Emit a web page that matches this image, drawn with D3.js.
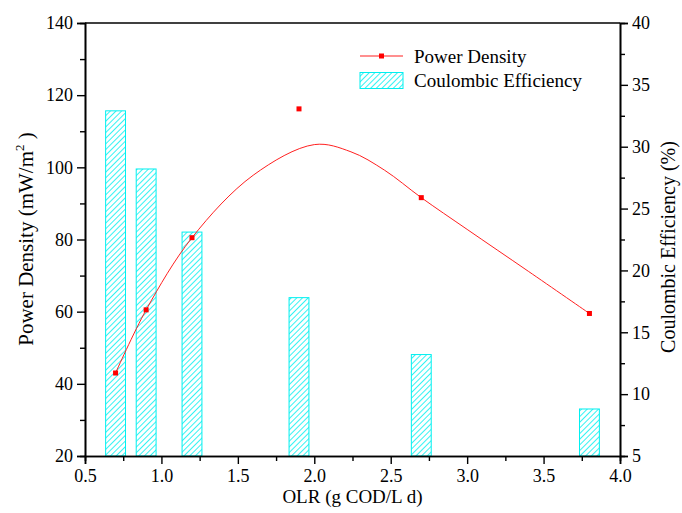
<!DOCTYPE html>
<html><head><meta charset="utf-8">
<script src="https://cdn.jsdelivr.net/npm/d3@7"></script>
<style>
html,body{margin:0;padding:0;background:#fff;}
text{font-family:"Liberation Serif","Times New Roman",serif;fill:#000;}
</style></head>
<body><svg id="c" width="682" height="513"></svg>
<script>
// ---- data ----
const olr = [0.7, 0.9, 1.2, 1.9, 2.7, 3.8];
const powerDensity = [43, 60.5, 80.5, 116.2, 91.6, 59.5];
const coulombicEff = [32.9, 28.2, 23.1, 17.8, 13.2, 8.8];
// fitted curve
const fitX = [0.7, 0.9, 1.2, 1.6, 2.0, 2.24, 2.46, 2.7, 3.0, 3.4, 3.8];
const fitY = [43, 60.5, 80.5, 97.8, 106.3, 104.3, 99.2, 91.6, 82.8, 71.2, 59.5];
const xTicks = [0.5, 1.0, 1.5, 2.0, 2.5, 3.0, 3.5, 4.0];
const yLeftTicks = [20, 40, 60, 80, 100, 120, 140];
const yRightTicks = [5, 10, 15, 20, 25, 30, 35, 40];
const seriesNames = ["Power Density", "Coulombic Efficiency"];

const svg = d3.select("#c");
const L = 85, R = 620, T = 23, B = 456;
const x = d3.scaleLinear().domain([0.5, 4.0]).range([L, R]);
const yL = d3.scaleLinear().domain([20, 140]).range([B, T]);
const yR = d3.scaleLinear().domain([5, 40]).range([B, T]);
const cyan = "#00f0f0";
const serif = '"Liberation Serif", "Times New Roman", serif';

const defs = svg.append("defs");
const pat = defs.append("pattern").attr("id", "hatch").attr("patternUnits", "userSpaceOnUse")
  .attr("width", 4).attr("height", 4).attr("patternTransform", "rotate(45)");
pat.append("rect").attr("width", 4).attr("height", 4).attr("fill", "#fff");
pat.append("line").attr("x1", 0).attr("y1", 0).attr("x2", 0).attr("y2", 4)
  .attr("stroke", cyan).attr("stroke-width", 1.6);

// bars
const bw = 0.13;
svg.append("g").selectAll("rect").data(olr).join("rect")
  .attr("x", (d) => x(d - bw / 2))
  .attr("width", (d) => x(d + bw / 2) - x(d - bw / 2))
  .attr("y", (d, i) => yR(coulombicEff[i]))
  .attr("height", (d, i) => yR(5) - yR(coulombicEff[i]))
  .attr("fill", "url(#hatch)").attr("stroke", cyan).attr("stroke-width", 1);

// fitted line
const line = d3.line().x((d) => x(d[0])).y((d) => yL(d[1])).curve(d3.curveCatmullRom.alpha(0.5));
svg.append("path").datum(fitX.map((v, i) => [v, fitY[i]]))
  .attr("d", line).attr("fill", "none").attr("stroke", "#ff2020").attr("stroke-width", 1);

// points
svg.append("g").selectAll("rect").data(olr).join("rect")
  .attr("x", (d) => x(d) - 2.5).attr("y", (d, i) => yL(powerDensity[i]) - 2.5)
  .attr("width", 5).attr("height", 5).attr("fill", "#f00");

// axes
function styleAxis(g) {
  g.attr("font-family", serif);
  g.select(".domain").attr("stroke", "#000").attr("stroke-width", 1.6);
  g.selectAll(".tick line").attr("stroke", "#000").attr("stroke-width", 1.4);
  g.selectAll("text").attr("font-size", 18).attr("font-family", serif);
}
function minor(ticks) {
  const out = [];
  for (let i = 0; i < ticks.length - 1; i++) out.push((ticks[i] + ticks[i + 1]) / 2);
  return out;
}
// minor ticks
svg.append("g").attr("transform", `translate(0,${B})`)
  .call(d3.axisBottom(x).tickValues(minor(xTicks)).tickSize(5).tickFormat(""))
  .call(styleAxis);
svg.append("g").attr("transform", `translate(${L},0)`)
  .call(d3.axisLeft(yL).tickValues(minor(yLeftTicks)).tickSize(5).tickFormat(""))
  .call(styleAxis);
svg.append("g").attr("transform", `translate(${R},0)`)
  .call(d3.axisRight(yR).tickValues(minor(yRightTicks)).tickSize(5).tickFormat(""))
  .call(styleAxis);
// major
svg.append("g").attr("transform", `translate(0,${B})`)
  .call(d3.axisBottom(x).tickValues(xTicks).tickSize(8).tickPadding(5).tickFormat(d3.format(".1f")))
  .call(styleAxis);
svg.append("g").attr("transform", `translate(${L},0)`)
  .call(d3.axisLeft(yL).tickValues(yLeftTicks).tickSize(8).tickPadding(4).tickFormat(d3.format("d")))
  .call(styleAxis);
svg.append("g").attr("transform", `translate(${R},0)`)
  .call(d3.axisRight(yR).tickValues(yRightTicks).tickSize(8).tickPadding(4).tickFormat(d3.format("d")))
  .call(styleAxis);
// top border
svg.append("line").attr("x1", L).attr("x2", R).attr("y1", T).attr("y2", T)
  .attr("stroke", "#000").attr("stroke-width", 1.6);

// titles
svg.append("text").attr("x", (L + R) / 2).attr("y", 503).attr("text-anchor", "middle")
  .style("font-size", "19px").text("OLR (g COD/L d)");
const lt = svg.append("text").attr("transform", `translate(33,239) rotate(-90)`)
  .attr("text-anchor", "middle").style("font-size", "21px");
lt.append("tspan").text("Power Density (mW/m");
lt.append("tspan").attr("dy", -9).style("font-size", "13px").text("2");
lt.append("tspan").attr("dy", 9).text(" )");
svg.append("text").attr("transform", `translate(675,247) rotate(-90)`)
  .attr("text-anchor", "middle").style("font-size", "20px").text("Coulombic Efficiency (%)");

// legend
const lg = svg.append("g");
lg.append("line").attr("x1", 360).attr("x2", 403).attr("y1", 56).attr("y2", 56)
  .attr("stroke", "#ff2020").attr("stroke-width", 1.2);
lg.append("rect").attr("x", 379).attr("y", 53.5).attr("width", 5).attr("height", 5).attr("fill", "#f00");
lg.append("text").attr("x", 414).attr("y", 63).style("font-size", "19px").text(seriesNames[0]);
lg.append("rect").attr("x", 360).attr("y", 72.5).attr("width", 43).attr("height", 16)
  .attr("fill", "url(#hatch)").attr("stroke", cyan).attr("stroke-width", 1);
lg.append("text").attr("x", 414).attr("y", 87).style("font-size", "19px").text(seriesNames[1]);
</script></body></html>
